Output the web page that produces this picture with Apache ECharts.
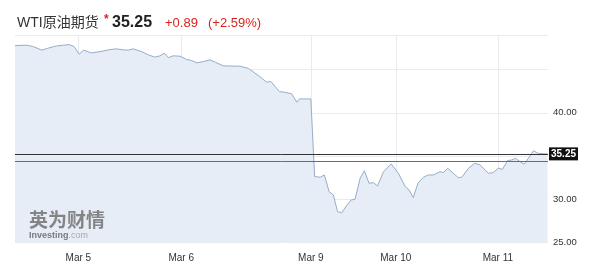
<!DOCTYPE html>
<html><head><meta charset="utf-8">
<script src="https://cdn.jsdelivr.net/npm/echarts@6/dist/echarts.min.js"></script>
<style>html,body{margin:0;padding:0;background:#fff}#c{width:593px;height:279px}</style>
</head><body><div id="c"></div>
<script>
// trading hours from start of window
const hours = [0,2.75,4.3,6.3,7.8,9.8,11.4,12.8,13.9,15.1,16.1,18.0,20.0,22.0,23.8,25.5,26.7,27.8,29.8,31.4,32.9,34.1,35.1,36.1,37.2,38.8,40.4,41.6,42.8,44.3,45.9,47.1,49.0,52.9,54.9,57.6,59.2,60.2,62.2,63.5,65.1,66.3,66.9,69.6,
  70.5,71.8,72.8,73.9,74.9,75.9,76.9,78.1,79.1,80.0,81.2,82.2,83.3,84.3,85.3,86.7,88.5,90.2,91.8,92.7,93.7,94.8,96.1,97.2,98.4,100.0,100.8,101.8,103.1,104.3,105.1,106.7,108.2,109.4,111.4,112.5,113.7,114.7,115.9,116.9,117.8,118.8,119.8,120.8,122.0,123.0,125.3];
const prices = [47.78,47.82,47.66,47.25,47.48,47.74,47.82,47.89,47.66,46.78,47.25,46.93,47.08,47.28,47.40,47.28,47.25,47.40,47.08,46.70,46.44,46.59,46.90,46.39,46.59,46.55,46.16,46.04,45.78,45.93,46.12,45.86,45.43,45.39,45.14,44.19,43.54,43.63,42.45,42.38,42.19,41.23,41.61,41.61,
  32.62,32.55,32.81,30.88,30.50,28.56,28.45,29.34,29.92,30.00,32.43,33.31,31.85,31.92,31.54,33.19,34.09,33.01,31.46,31.08,30.19,31.85,32.55,32.81,32.81,33.19,33.08,33.59,33.01,32.50,32.55,33.59,34.17,33.97,33.01,33.08,33.59,33.47,34.47,34.55,34.75,34.35,34.05,34.75,35.62,35.32,35.25];
const tickHours = [14.9, 39.1, 69.6, 89.6, 113.6];
const tickLabels = ['Mar 5', 'Mar 6', 'Mar 9', 'Mar 10', 'Mar 11'];
const yLabelValues = [25, 30, 40];
const lastPrice = 35.25;
const prevClose = 34.36;
const titleName = 'WTI原油期货';
const changeText = '+0.89';
const changePctText = '(+2.59%)';

const FONT = '"Liberation Sans", Arial, "Noto Sans CJK SC", sans-serif';
const RED = '#e23a3a';
const chart = echarts.init(document.getElementById('c'), null, {renderer: 'canvas'});
chart.setOption({
  animation: false,
  backgroundColor: '#fff',
  textStyle: {fontFamily: FONT},
  grid: {left: 15, right: 45, top: 35, bottom: 36.5, containLabel: false},
  xAxis: {
    type: 'value', min: 0, max: 125.4,
    axisLine: {show: false},
    axisTick: {show: false, customValues: tickHours},
    axisLabel: {
      customValues: tickHours, color: '#333', fontSize: 10, margin: 11, fontFamily: FONT,
      formatter: function (v) {
        let best = 0, d = 1e9;
        tickHours.forEach(function (t, i) { if (Math.abs(t - v) < d) { d = Math.abs(t - v); best = i; } });
        return tickLabels[best];
      }
    },
    splitLine: {show: true, lineStyle: {color: '#e8ebef', width: 1}}
  },
  yAxis: {
    type: 'value', position: 'right', min: 25, max: 49, interval: 5,
    axisLine: {show: false}, axisTick: {show: false},
    axisLabel: {
      color: '#333', fontSize: 9.5, margin: 5, fontFamily: FONT,
      formatter: function (v) { return yLabelValues.indexOf(v) >= 0 ? v.toFixed(2) : ''; }
    },
    splitLine: {show: true, lineStyle: {color: '#e8ebef', width: 1}}
  },
  series: [{
    type: 'line',
    data: hours.map(function (h, i) { return [h, prices[i]]; }),
    showSymbol: false,
    lineStyle: {color: '#97adc8', width: 1},
    areaStyle: {color: '#e6edf7', opacity: 1},
    z: 2
  }, {
    type: 'line',
    name: 'prevClose',
    data: [],
    z: 3,
    markLine: {
      silent: true, symbol: 'none', animation: false,
      lineStyle: {color: RED, type: 'solid', width: 1, opacity: 1},
      label: {show: false},
      data: [{yAxis: prevClose}]
    }
  }, {
    type: 'line',
    name: 'last',
    data: [],
    z: 4,
    markLine: {
      silent: true, symbol: 'none', animation: false,
      lineStyle: {color: '#333', type: 'solid', width: 1},
      label: {show: true, position: 'end', distance: 1, formatter: lastPrice.toFixed(2),
        backgroundColor: '#111', color: '#fff', fontWeight: 'bold', fontSize: 10,
        padding: [2, 2, 1, 2], fontFamily: FONT},
      data: [{yAxis: lastPrice}]
    }
  }],
  graphic: [
    {type: 'text', x: 17, y: 23, style: {text: titleName, fontSize: 14, fontFamily: FONT, fill: '#333', verticalAlign: 'middle'}},
    {type: 'text', x: 104, y: 20, style: {text: '*', fontSize: 12, fontWeight: 'bold', fontFamily: FONT, fill: '#e0261f', verticalAlign: 'middle'}},
    {type: 'text', x: 112, y: 23, style: {text: lastPrice.toFixed(2), fontSize: 16, fontWeight: 'bold', fontFamily: FONT, fill: '#222', verticalAlign: 'middle'}},
    {type: 'text', x: 165, y: 23.5, style: {text: changeText, fontSize: 13, fontFamily: FONT, fill: '#d9231d', verticalAlign: 'middle'}},
    {type: 'text', x: 208, y: 23.5, style: {text: changePctText, fontSize: 13, fontFamily: FONT, fill: '#d9231d', verticalAlign: 'middle'}},
    {type: 'text', x: 29, y: 220, z: 10, style: {text: '英为财情', fontSize: 19, fontWeight: 'bold', fontFamily: '"Noto Sans CJK SC", sans-serif', fill: '#858585', verticalAlign: 'middle'}},
    {type: 'text', x: 29, y: 236, z: 10, style: {text: '{a|Investing}{b|.com}', verticalAlign: 'middle',
      rich: {a: {fontSize: 9, fontWeight: 'bold', fill: '#7a7a7a', color: '#7a7a7a', fontFamily: FONT},
             b: {fontSize: 9, color: '#aaa', fill: '#aaa', fontFamily: FONT}}}}
  ]
});
</script>
</body></html>
